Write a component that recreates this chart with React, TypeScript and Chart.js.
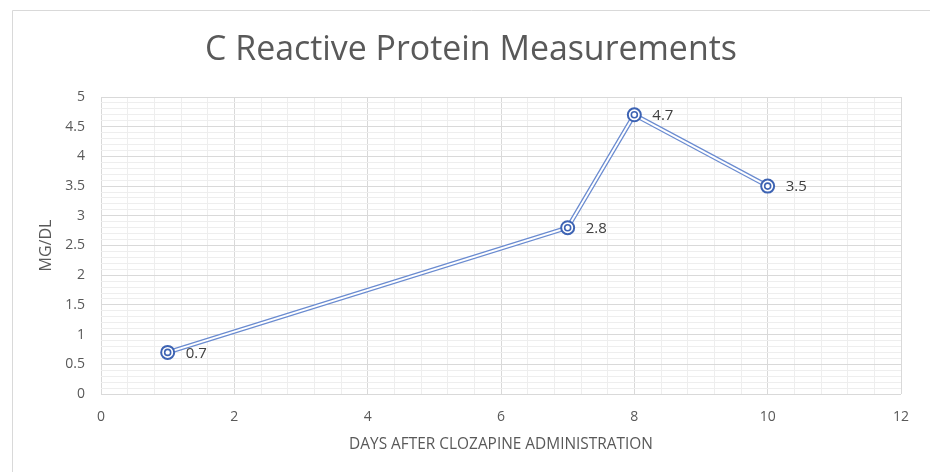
import { useEffect, useRef } from 'react';
import { Chart, registerables } from 'chart.js';

Chart.register(...registerables);

// ---- data ----
const days = [1, 7, 8, 10];
const crp = [0.7, 2.8, 4.7, 3.5];
const pointLabels = ['0.7', '2.8', '4.7', '3.5'];
const chartTitle = 'C Reactive Protein Measurements';
const xTitle = 'DAYS AFTER CLOZAPINE ADMINISTRATION';
const yTitle = 'MG/DL';

const FONT = '"Open Sans", "Noto Sans", sans-serif';
const LINE = '#6a8bd0';
const RING = '#3d63b3';
const TEXT = '#595959';
const MAJOR = '#d9d9d9';
const MINOR = '#eeeeee';

function fitFont(ctx: CanvasRenderingContext2D, text: string, target: number, weight = '400') {
  ctx.font = `${weight} 100px ${FONT}`;
  const w = ctx.measureText(text).width;
  const size = (100 * target) / w;
  ctx.font = `${weight} ${size}px ${FONT}`;
}

export default function App() {
  const ref = useRef<HTMLCanvasElement>(null);

  useEffect(() => {
    if (!ref.current) return;
    const points = days.map((d, i) => ({ x: d, y: crp[i] }));

    const isMajorX = (v: number) => Math.abs(v / 2 - Math.round(v / 2)) < 1e-6;
    const isMajorY = (v: number) => Math.abs(v * 2 - Math.round(v * 2)) < 1e-6;

    const textPlugin = {
      id: 'texts',
      beforeDraw(chart: any) {
        const ctx = chart.ctx as CanvasRenderingContext2D;
        ctx.save();
        ctx.fillStyle = '#ffffff';
        ctx.fillRect(0, 0, chart.width, chart.height);
        ctx.strokeStyle = MAJOR;
        ctx.lineWidth = 1;
        ctx.beginPath();
        ctx.moveTo(12.5, chart.height);
        ctx.lineTo(12.5, 10.5);
        ctx.lineTo(chart.width, 10.5);
        ctx.stroke();
        ctx.restore();
      },
      afterDraw(chart: any) {
        const ctx = chart.ctx as CanvasRenderingContext2D;
        const area = chart.chartArea;
        ctx.save();
        ctx.fillStyle = TEXT;
        ctx.textAlign = 'center';
        ctx.textBaseline = 'middle';
        fitFont(ctx, chartTitle, 532, '400');
        ctx.fillText(chartTitle, 471, 50);

        fitFont(ctx, xTitle, 304);
        ctx.fillText(xTitle, (area.left + area.right) / 2, 445);

        ctx.save();
        ctx.translate(46, (area.top + area.bottom) / 2);
        ctx.rotate(-Math.PI / 2);
        fitFont(ctx, yTitle, 52);
        ctx.fillText(yTitle, 0, 0);
        ctx.restore();

        const meta = chart.getDatasetMeta(2);
        ctx.fillStyle = '#404040';
        ctx.textAlign = 'left';
        ctx.font = `400 15px ${FONT}`;
        meta.data.forEach((el: any, i: number) => {
          ctx.fillText(pointLabels[i], el.x + 18, el.y + 1);
        });
        ctx.restore();
      },
    };

    const chart = new Chart(ref.current, {
      type: 'scatter',
      data: {
        datasets: [
          {
            data: points,
            showLine: true,
            borderColor: LINE,
            borderWidth: 4.5,
            pointRadius: 0,
            order: 3,
          },
          {
            data: points,
            showLine: true,
            borderColor: '#ffffff',
            borderWidth: 2,
            pointRadius: 6.5,
            pointBorderWidth: 2,
            pointBorderColor: RING,
            pointBackgroundColor: '#ffffff',
            order: 2,
          },
          {
            data: points,
            showLine: false,
            pointRadius: 3,
            pointBorderWidth: 1.6,
            pointBorderColor: RING,
            pointBackgroundColor: '#ffffff',
            order: 1,
          },
        ],
      },
      options: {
        animation: false,
        responsive: false,
        events: [],
        layout: { padding: { top: 97, right: 29, left: 0, bottom: 0 } },
        plugins: { legend: { display: false }, tooltip: { enabled: false } },
        scales: {
          x: {
            type: 'linear',
            min: 0,
            max: 12,
            afterBuildTicks: (s: any) => {
              const t = [];
              for (let i = 0; i <= 30; i++) t.push({ value: (i * 2) / 5 });
              s.ticks = t;
            },
            afterFit: (s: any) => {
              s.height = 78;
            },
            border: { display: false },
            grid: {
              drawTicks: false,
              color: (c: any) => (c.tick && isMajorX(c.tick.value) ? MAJOR : MINOR),
            },
            ticks: {
              autoSkip: false,
              maxRotation: 0,
              padding: 15,
              color: TEXT,
              font: { family: FONT, size: 14 },
              callback: (v: any) => (isMajorX(Number(v)) ? String(Math.round(Number(v))) : ''),
            },
          },
          y: {
            type: 'linear',
            min: 0,
            max: 5,
            afterBuildTicks: (s: any) => {
              const t = [];
              for (let i = 0; i <= 50; i++) t.push({ value: i / 10 });
              s.ticks = t;
            },
            afterFit: (s: any) => {
              s.width = 101;
            },
            border: { display: false },
            grid: {
              drawTicks: false,
              color: (c: any) => (c.tick && isMajorY(c.tick.value) ? MAJOR : MINOR),
            },
            ticks: {
              autoSkip: false,
              padding: 16,
              color: TEXT,
              font: { family: FONT, size: 14 },
              callback: (v: any) => (isMajorY(Number(v)) ? String(Math.round(Number(v) * 10) / 10) : ''),
            },
          },
        },
      },
      plugins: [textPlugin],
    });

    return () => chart.destroy();
  }, []);

  return (
    <div style={{ position: 'fixed', left: 0, top: 0, width: 930, height: 472, background: '#fff' }}>
      <canvas ref={ref} width={930} height={472} style={{ display: 'block' }} />
    </div>
  );
}
